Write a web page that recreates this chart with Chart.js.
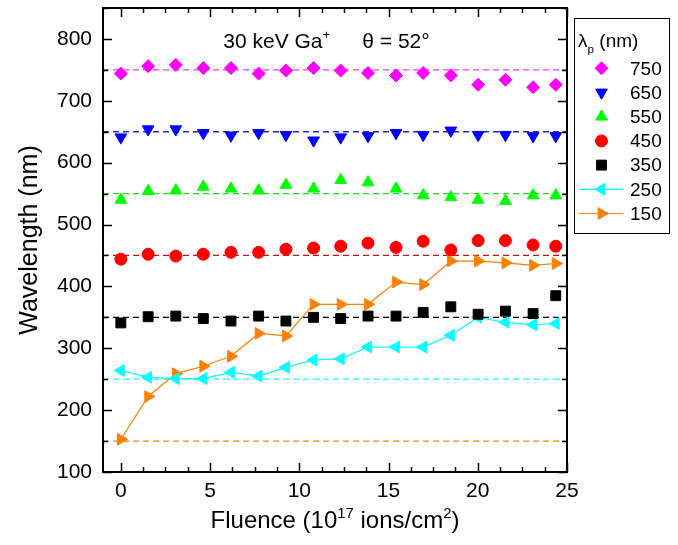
<!DOCTYPE html>
<html>
<head>
<meta charset="utf-8">
<script src="https://cdn.jsdelivr.net/npm/chart.js@4"></script>
<style>
  html, body { margin: 0; padding: 0; background: #fff; }
  canvas { display: block; }
</style>
</head>
<body>
<canvas id="chart" width="678" height="545"></canvas>
<script>
// Data
const fluence = [0, 1.53, 3.08, 4.62, 6.17, 7.72, 9.25, 10.8, 12.32, 13.85, 15.42, 16.94, 18.49, 20.02, 21.55, 23.1, 24.37];
const wl750 = [744, 756, 758, 753, 753, 744, 749, 753, 749, 745, 741, 745, 741, 726, 734, 722, 726];
const wl650 = [641, 654, 654, 648, 644, 648, 645, 636, 641, 643, 648, 645, 652, 645, 645, 643, 643];
const wl550 = [540, 554, 555, 561, 558, 555, 564, 558, 572, 568, 558, 547, 544, 540, 538, 547, 547];
const wl450 = [444, 452, 449, 452, 455, 455, 460, 462, 465, 470, 463, 473, 459, 474, 474, 467, 465];
const wl350 = [341, 351, 352, 348, 344, 352, 344, 350, 348, 352, 352, 358, 367, 355, 360, 356, 385];
const wl250 = [264, 253, 251, 251, 261, 255, 269, 281, 283, 302, 302, 302, 321, 350, 342, 338, 340];
const wl150 = [153, 222, 259, 271, 287, 324, 320, 371, 371, 371, 407, 403, 441, 441, 438, 434, 437];

const seriesLabels = ["750", "650", "550", "450", "350", "250", "150"];
const seriesValues = [wl750, wl650, wl550, wl450, wl350, wl250, wl150];
const refLevels = [750, 650, 550, 450, 350, 250, 150];

const xTicks = [0, 5, 10, 15, 20, 25];
const yTicks = [100, 200, 300, 400, 500, 600, 700, 800];
const xRange = [-1, 25];
const yRange = [100, 850];

// Styles
const FONT = "'Liberation Sans', Arial, Helvetica, sans-serif";
const colors = ["#ff00ff", "#0000ff", "#00ff00", "#ff0000", "#000000", "#00ffff", "#ff8000"];
const refColors = ["#ff33ff", "#2222dd", "#22dd22", "#cc1111", "#000000", "#22ffff", "#ff8800"];
const markers = [
  { style: "rectRot", radius: 6.5, rotation: 0 },
  { style: "triangle", radius: 6.8, rotation: 180 },
  { style: "triangle", radius: 6.8, rotation: 0 },
  { style: "circle", radius: 6, rotation: 0 },
  { style: "rect", radius: 7, rotation: 0 },
  { style: "triangle", radius: 6.8, rotation: 270 },
  { style: "triangle", radius: 6.8, rotation: 90 }
];
const connected = [false, false, false, false, false, true, true];

const datasets = [];
seriesLabels.forEach((lab, i) => {
  datasets.push({
    label: lab,
    data: fluence.map((f, j) => ({ x: f, y: seriesValues[i][j] })),
    showLine: connected[i],
    borderColor: colors[i],
    backgroundColor: colors[i],
    borderWidth: 1.2,
    pointStyle: markers[i].style,
    pointRadius: markers[i].radius,
    pointRotation: markers[i].rotation,
    pointBackgroundColor: colors[i],
    pointBorderColor: colors[i],
    pointBorderWidth: 1,
    legendEntry: true
  });
});
refLevels.forEach((lvl, i) => {
  datasets.push({
    label: "ref " + lvl,
    data: [{ x: xRange[0], y: lvl }, { x: xRange[1], y: lvl }],
    showLine: true,
    borderColor: refColors[i],
    borderWidth: 1.3,
    borderDash: [6, 4],
    pointRadius: 0,
    legendEntry: false
  });
});

// draw text made of pieces, some raised (sup) or lowered (sub)
function drawRich(ctx, parts, x, y, size, align) {
  const widths = parts.map(p => {
    ctx.font = (p.sup || p.sub ? size * 0.62 : size) + "px " + FONT;
    return ctx.measureText(p.t).width;
  });
  const total = widths.reduce((a, b) => a + b, 0);
  let cx = align === "center" ? x - total / 2 : x;
  parts.forEach((p, k) => {
    ctx.font = (p.sup || p.sub ? size * 0.62 : size) + "px " + FONT;
    let dy = 0;
    if (p.sup) dy = -size * 0.42;
    if (p.sub) dy = size * 0.3;
    ctx.fillText(p.t, cx, y + dy);
    cx += widths[k];
  });
}

// inward ticks on all four sides + frame
const frameTicks = {
  id: "frameTicks",
  afterDatasetsDraw(chart) {
    const { ctx, chartArea: a, scales } = chart;
    const sx = scales.x, sy = scales.y;
    ctx.save();
    ctx.strokeStyle = "#000";
    ctx.lineWidth = 1.5;
    ctx.beginPath();
    for (let v = 0; v <= xRange[1] + 1e-6; v += 1.25) {
      const len = xTicks.includes(v) ? 9 : 5;
      const px = Math.round(sx.getPixelForValue(v)) + 0.5;
      ctx.moveTo(px, a.bottom); ctx.lineTo(px, a.bottom - len);
      ctx.moveTo(px, a.top); ctx.lineTo(px, a.top + len);
    }
    for (let v = yRange[0]; v <= yRange[1] + 1e-6; v += 50) {
      const len = yTicks.includes(v) ? 9 : 5;
      const py = Math.round(sy.getPixelForValue(v)) + 0.5;
      ctx.moveTo(a.left, py); ctx.lineTo(a.left + len, py);
      ctx.moveTo(a.right, py); ctx.lineTo(a.right - len, py);
    }
    ctx.stroke();
    ctx.lineWidth = 2;
    ctx.strokeRect(a.left, a.top, a.right - a.left, a.bottom - a.top);
    ctx.restore();
  }
};

// axis titles, annotation and legend
const extras = {
  id: "extras",
  afterDraw(chart) {
    const { ctx, chartArea: a, scales } = chart;
    ctx.save();
    ctx.fillStyle = "#000";
    ctx.textBaseline = "alphabetic";
    ctx.textAlign = "left";

    // annotation
    const ax = scales.x.getPixelForValue(5.74);
    const ay = scales.y.getPixelForValue(786);
    drawRich(ctx, [{ t: "30 keV Ga" }, { t: "+", sup: true }], ax, ay, 21, "left");
    drawRich(ctx, [{ t: "\u03b8 = 52\u00b0" }], scales.x.getPixelForValue(13.53), ay, 21, "left");

    // x title
    drawRich(ctx, [{ t: "Fluence (10" }, { t: "17", sup: true }, { t: " ions/cm" }, { t: "2", sup: true }, { t: ")" }],
      (a.left + a.right) / 2, 528, 24, "center");

    // y title
    ctx.save();
    ctx.translate(37, (a.top + a.bottom) / 2);
    ctx.rotate(-Math.PI / 2);
    drawRich(ctx, [{ t: "Wavelength (nm)" }], 0, 0, 25, "center");
    ctx.restore();

    // legend
    const lx = 574.5, ly = 18.5, lw = 95, lh = 215;
    ctx.fillStyle = "#fff";
    ctx.fillRect(lx, ly, lw, lh);
    ctx.strokeStyle = "#000";
    ctx.lineWidth = 1;
    ctx.strokeRect(lx, ly, lw, lh);
    ctx.fillStyle = "#000";
    drawRich(ctx, [{ t: "\u03bb" }, { t: "p", sub: true }, { t: " (nm)" }], 578, 47, 19, "left");

    const entries = chart.data.datasets.filter(d => d.legendEntry);
    entries.forEach((d, k) => {
      const cy = 68.3 + k * 24.2;
      const mx = 601.5;
      if (d.showLine) {
        ctx.strokeStyle = d.borderColor;
        ctx.lineWidth = 1.2;
        ctx.beginPath();
        ctx.moveTo(579, cy); ctx.lineTo(623, cy);
        ctx.stroke();
      }
      ctx.fillStyle = d.pointBackgroundColor;
      ctx.strokeStyle = d.pointBorderColor;
      ctx.lineWidth = 1;
      Chart.helpers.drawPoint(ctx, {
        pointStyle: d.pointStyle, radius: d.pointRadius, rotation: d.pointRotation, borderWidth: 1
      }, mx, cy);
      ctx.fillStyle = "#000";
      ctx.font = "19px " + FONT;
      ctx.textBaseline = "middle";
      ctx.fillText(d.label, 630, cy + 1);
      ctx.textBaseline = "alphabetic";
    });
    ctx.restore();
  }
};

new Chart(document.getElementById("chart"), {
  type: "scatter",
  data: { datasets: datasets },
  options: {
    responsive: false,
    devicePixelRatio: 1,
    animation: false,
    layout: { padding: { left: 0, top: 8, right: 111, bottom: 0 } },
    plugins: { legend: { display: false }, tooltip: { enabled: false } },
    elements: { line: { tension: 0 } },
    scales: {
      x: {
        type: "linear",
        min: xRange[0],
        max: xRange[1],
        afterBuildTicks: s => { s.ticks = xTicks.map(v => ({ value: v })); },
        afterFit: s => { s.height = 73; s.paddingLeft = 0; s.paddingRight = 0; },
        ticks: { font: { family: FONT, size: 21 }, color: "#000", padding: 7, autoSkip: false, maxRotation: 0 },
        grid: { display: false, drawTicks: false },
        border: { display: false }
      },
      y: {
        type: "linear",
        min: yRange[0],
        max: yRange[1],
        afterBuildTicks: s => { s.ticks = yTicks.map(v => ({ value: v })); },
        afterFit: s => { s.width = 103; s.paddingTop = 0; s.paddingBottom = 0; },
        ticks: { font: { family: FONT, size: 21 }, color: "#000", padding: 11, autoSkip: false },
        grid: { display: false, drawTicks: false },
        border: { display: false }
      }
    }
  },
  plugins: [frameTicks, extras]
});
</script>
</body>
</html>
